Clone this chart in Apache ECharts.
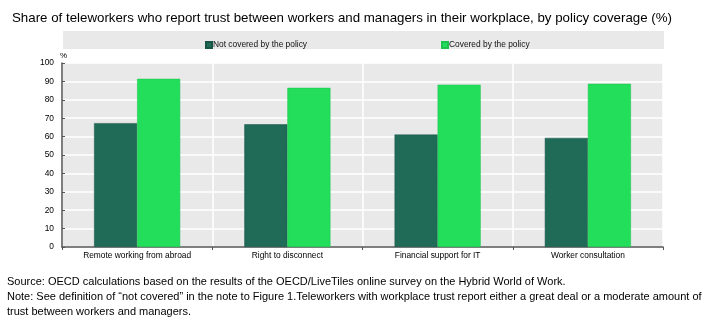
<!DOCTYPE html>
<html><head><meta charset="utf-8">
<script src="https://cdn.jsdelivr.net/npm/echarts@6/dist/echarts.min.js"></script>
<style>html,body{margin:0;padding:0;background:#fff}#c{width:718px;height:327px}</style>
</head><body><div id="c"></div>
<script>
var categories = ["Remote working from abroad", "Right to disconnect", "Financial support for IT", "Worker consultation"];
var notCovered = [67.3, 66.7, 61.1, 59.3];
var covered = [91.4, 86.5, 88.2, 88.7];
var yTicks = [0, 10, 20, 30, 40, 50, 60, 70, 80, 90, 100];
var seriesNames = ["Not covered by the policy", "Covered by the policy"];
var titleText = "Share of teleworkers who report trust between workers and managers in their workplace, by policy coverage (%)";
var noteLines = [
  "Source: OECD calculations based on the results of the OECD/LiveTiles online survey on the Hybrid World of Work.",
  "Note: See definition of \u201cnot covered\u201d in the note to Figure 1.Teleworkers with workplace trust report either a great deal or a moderate amount of",
  "trust between workers and managers."
];
var chart = echarts.init(document.getElementById('c'), null, {renderer: 'canvas'});
var F = 'Arial, "Liberation Sans", sans-serif';
chart.setOption({
  animation: false,
  backgroundColor: '#fff',
  title: {text: titleText, left: 7, top: 7, textStyle: {fontFamily: F, fontSize: 13.3, fontWeight: 'normal', color: '#000'}},
  graphic: [
    {type: 'rect', shape: {x: 63, y: 31, width: 601, height: 18}, style: {fill: '#e9e9e9'}, z: -1},
    {type: 'text', left: 7, top: 274, style: {text: noteLines.join('\n'), font: '11px ' + F, fill: '#000', lineHeight: 15}}
  ],
  legend: {
    data: seriesNames, left: 200, top: 36, itemWidth: 6, itemHeight: 6, itemGap: 134, icon: 'rect',
    textStyle: {fontFamily: F, fontSize: 8.4, color: '#111', padding: [0, 0, 0, -4]}
  },
  grid: {left: 62, right: 55, top: 63, bottom: 80, show: true, backgroundColor: '#e9e9e9', borderWidth: 0},
  xAxis: {
    type: 'category', data: categories,
    axisLine: {lineStyle: {color: '#555', width: 1.5}},
    axisTick: {show: true, length: 3, lineStyle: {color: '#555'}},
    axisLabel: {fontFamily: F, fontSize: 8.4, color: '#000', margin: 5},
    splitLine: {show: true, lineStyle: {color: '#fff', width: 1.5}}
  },
  yAxis: {
    type: 'value', min: yTicks[0], max: yTicks[yTicks.length - 1], interval: 10,
    name: '%', nameGap: 3, nameTextStyle: {fontFamily: F, fontSize: 8, color: '#000', align: 'left', padding: [0, 0, 0, -2]},
    axisLine: {show: true, lineStyle: {color: '#555', width: 1.5}},
    axisTick: {show: true, inside: true, length: 3, lineStyle: {color: '#555'}},
    axisLabel: {fontFamily: F, fontSize: 8.4, color: '#000', margin: 8},
    splitLine: {show: true, lineStyle: {color: '#fff', width: 1.5}}
  },
  series: [
    {name: seriesNames[0], type: 'bar', data: notCovered, barGap: '0%', barCategoryGap: '42.7%',
     itemStyle: {color: '#1f6b58', borderColor: '#185545', borderWidth: 0.5}},
    {name: seriesNames[1], type: 'bar', data: covered, barGap: '0%', barCategoryGap: '42.7%',
     itemStyle: {color: '#22de5a', borderColor: '#1dc24e', borderWidth: 0.5}}
  ]
});
</script></body></html>
